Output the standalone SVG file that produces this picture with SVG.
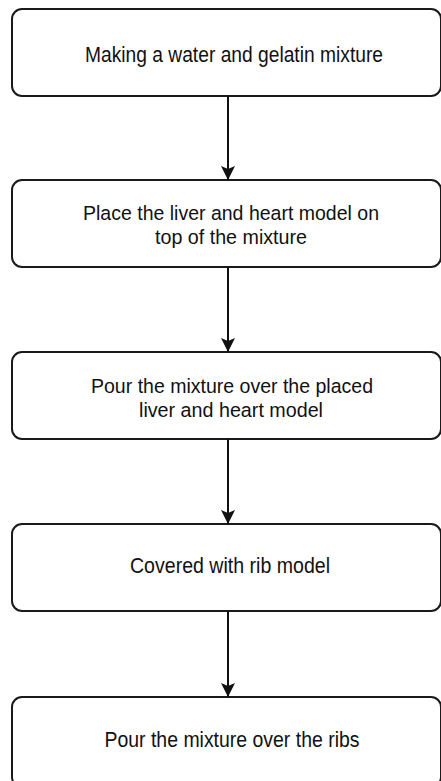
<svg xmlns="http://www.w3.org/2000/svg" width="441" height="781" viewBox="0 0 441 781">
<style>
.box{fill:#fff;stroke:#1a1a1a;stroke-width:2}
.t{font-family:"Liberation Sans",Arial,sans-serif;font-size:22px;fill:#111;text-anchor:middle}
.s{font-size:20.5px}
.c{stroke:#111;stroke-width:2;fill:none}
</style>
<defs><marker id="ah" viewBox="0 0 14 14" refX="14" refY="7" markerWidth="14" markerHeight="14" markerUnits="userSpaceOnUse" orient="auto"><path d="M0,0 L14,7 L0,14 L3,7 z" fill="#111"/></marker></defs>
<rect width="441" height="781" fill="#fff"/>
<g id="n1"><rect class="box" x="12" y="9" width="429" height="87" rx="10"/><text class="t" x="234" y="62" textLength="298" lengthAdjust="spacingAndGlyphs">Making a water and gelatin mixture</text></g>
<g id="n2"><rect class="box" x="12" y="180" width="429" height="87" rx="10"/><text class="t s" x="231" y="220" textLength="296" lengthAdjust="spacingAndGlyphs">Place the liver and heart model on</text><text class="t s" x="231" y="244" textLength="152" lengthAdjust="spacingAndGlyphs">top of the mixture</text></g>
<g id="n3"><rect class="box" x="12" y="352" width="429" height="87" rx="10"/><text class="t s" x="232" y="393" textLength="282" lengthAdjust="spacingAndGlyphs">Pour the mixture over the placed</text><text class="t s" x="231" y="417" textLength="184" lengthAdjust="spacingAndGlyphs">liver and heart model</text></g>
<g id="n4"><rect class="box" x="12" y="524" width="429" height="87" rx="10"/><text class="t" x="230" y="573" textLength="200" lengthAdjust="spacingAndGlyphs">Covered with rib model</text></g>
<g id="n5"><rect class="box" x="12" y="697" width="429" height="90" rx="10"/><text class="t" x="232" y="747" textLength="255" lengthAdjust="spacingAndGlyphs">Pour the mixture over the ribs</text></g>
<g id="connectors">
<line class="c" x1="228" y1="96" x2="228" y2="180" marker-end="url(#ah)"/>
<line class="c" x1="228" y1="267" x2="228" y2="352" marker-end="url(#ah)"/>
<line class="c" x1="228" y1="439" x2="228" y2="524" marker-end="url(#ah)"/>
<line class="c" x1="228" y1="611" x2="228" y2="697" marker-end="url(#ah)"/>
</g>
</svg>
